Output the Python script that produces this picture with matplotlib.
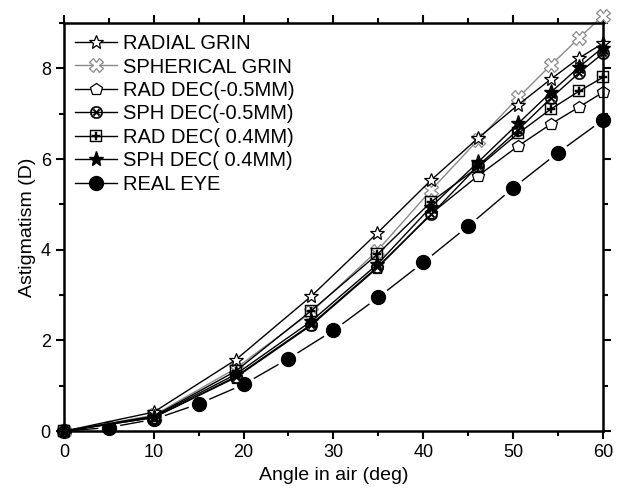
import numpy as np
import matplotlib.pyplot as plt
from matplotlib.ticker import MultipleLocator

plt.rcParams['font.family'] = ['Liberation Sans', 'DejaVu Sans']

# Angles where the model eyes were traced
angles = [0, 10, 19.1, 27.5, 34.9, 40.9, 46.1, 50.6, 54.2, 57.3, 60]
radial_grin = [0.0, 0.42, 1.57, 2.97, 4.37, 5.54, 6.46, 7.2, 7.76, 8.22, 8.55]
spherical_grin = [0.0, 0.35, 1.38, 2.62, 3.98, 5.32, 6.42, 7.36, 8.07, 8.66, 9.16]
rad_dec_m05 = [0.0, 0.3, 1.18, 2.33, 3.6, 4.8, 5.63, 6.29, 6.77, 7.14, 7.47]
sph_dec_m05 = [0.0, 0.3, 1.2, 2.35, 3.62, 4.78, 5.85, 6.65, 7.34, 7.89, 8.33]
rad_dec_04 = [0.0, 0.33, 1.32, 2.65, 3.9, 5.06, 5.82, 6.57, 7.1, 7.49, 7.8]
sph_dec_04 = [0.0, 0.32, 1.25, 2.42, 3.68, 4.95, 5.93, 6.79, 7.47, 8.02, 8.46]

real_angles = [0, 5, 10, 15, 20, 25, 30, 35, 40, 45, 50, 55, 60]
real_eye = [0.0, 0.08, 0.26, 0.6, 1.03, 1.6, 2.22, 2.95, 3.72, 4.52, 5.36, 6.14, 6.86]

fig = plt.figure(figsize=(6.17, 4.95), dpi=100)
ax = fig.add_axes([0.1037, 0.129, 0.8733, 0.8245])

# real eye: line broken around the markers
ax.plot(real_angles, real_eye, '-', color='black', lw=1, zorder=1)
ax.plot(real_angles[1:], real_eye[1:], 'o', color='white', ms=15, zorder=1.5)
ax.plot(real_angles, real_eye, 'o', color='black', ms=10, zorder=2,
        clip_on=False)

ax.plot(angles, radial_grin, '-', color='black', lw=1, marker='*', ms=10,
        mfc='white', mec='black', mew=0.9, label='RADIAL GRIN', zorder=4,
        clip_on=False)
ax.plot(angles, spherical_grin, '-', color='#8a8a8a', lw=1, marker='X', ms=10,
        mfc='white', mec='#8a8a8a', mew=0.9, label='SPHERICAL GRIN', zorder=3,
        clip_on=False)
ax.plot(angles, rad_dec_m05, '-', color='black', lw=1, marker='p', ms=9,
        mfc='white', mec='black', mew=0.9, label='RAD DEC(-0.5MM)', zorder=3,
        clip_on=False)
ax.plot(angles, sph_dec_m05, '-', color='black', lw=1, marker='$\\otimes$', ms=9,
        mfc='black', mec='black', mew=0.3, label='SPH DEC(-0.5MM)', zorder=3,
        clip_on=False)
ax.plot(angles, rad_dec_04, '-', color='black', lw=1, marker='$\\boxplus$', ms=9,
        mfc='black', mec='black', mew=0.3, label='RAD DEC( 0.4MM)', zorder=3,
        clip_on=False)
ax.plot(angles, sph_dec_04, '-', color='black', lw=1, marker='*', ms=11,
        mfc='black', mec='black', label='SPH DEC( 0.4MM)', zorder=4,
        clip_on=False)
ax.plot([], [], '-', color='black', lw=1, marker='o', ms=10, label='REAL EYE')

ax.set_xlim(0, 60)
ax.set_ylim(0, 9.0)
ax.xaxis.set_major_locator(MultipleLocator(10))
ax.xaxis.set_minor_locator(MultipleLocator(5))
ax.yaxis.set_major_locator(MultipleLocator(2))
ax.yaxis.set_minor_locator(MultipleLocator(1))
ax.tick_params(which='both', direction='out', top=True, right=True, width=1.5,
               labelsize=13)
ax.tick_params(which='major', length=6)
ax.tick_params(which='minor', length=3.5)
for s in ax.spines.values():
    s.set_linewidth(1.8)
    s.set_zorder(6)

ax.set_xlabel('Angle in air (deg)', fontsize=14, labelpad=4)
ax.set_ylabel('Astigmatism (D)', fontsize=14, labelpad=3)

ax.legend(loc='upper left', frameon=False, fontsize=14.5,
          handlelength=2.1, handletextpad=0.3, labelspacing=0.22,
          borderaxespad=0.2, borderpad=0.35)

fig.savefig('out.png', dpi=100)
